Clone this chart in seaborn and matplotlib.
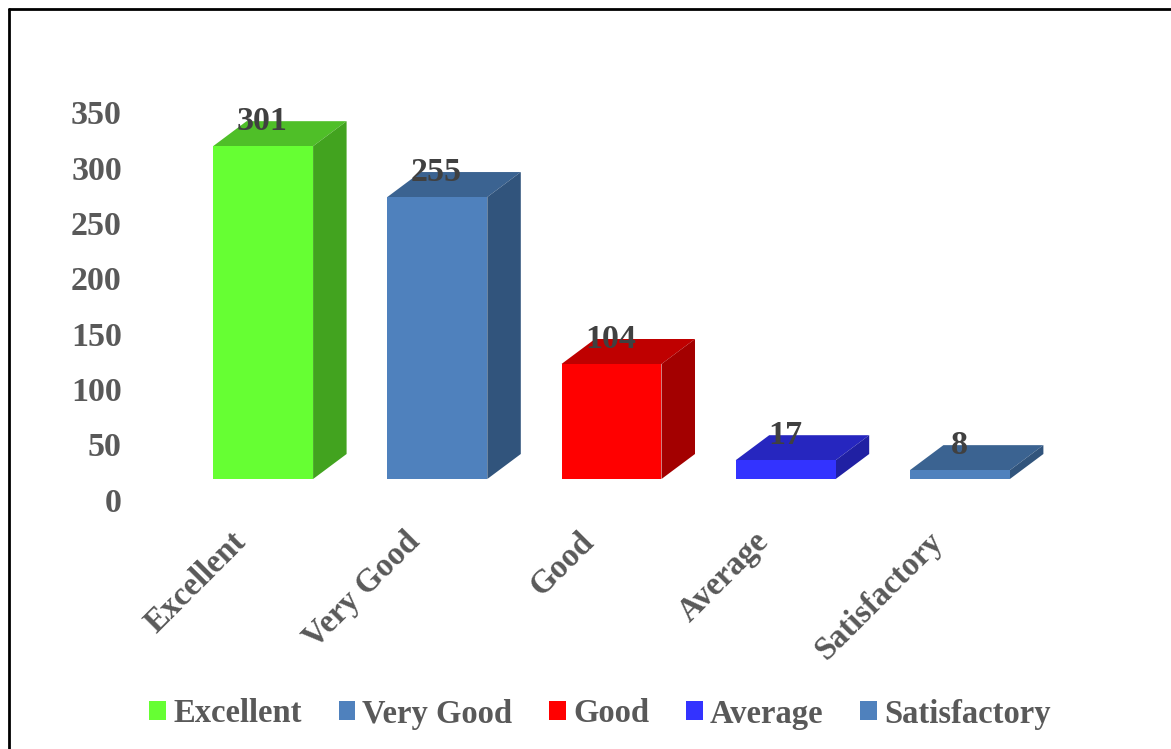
import matplotlib
matplotlib.use("Agg")
import matplotlib.pyplot as plt
import matplotlib.transforms as mtrans
from matplotlib.lines import Line2D
import pandas as pd
import seaborn as sns

categories = ["Excellent", "Very Good", "Good", "Average", "Satisfactory"]
counts = [301, 255, 104, 17, 8]
front_colors = ["#66FF33", "#4F81BD", "#FF0000", "#3333FF", "#4F81BD"]
top_colors = ["#4FBF28", "#3B6391", "#BF0000", "#2626BF", "#3B6391"]
side_colors = ["#42A31F", "#31547C", "#A30000", "#2020A3", "#31547C"]
y_ticks = [0, 50, 100, 150, 200, 250, 300, 350]

W, H = 1171, 749
DEPTH_X, DEPTH_Y = 33.5, 25  # pixels of fake 3d depth
TEXT = "#595959"
FONT = "Liberation Serif"

sns.set_style("white")
plt.rcParams["font.family"] = [FONT, "DejaVu Serif"]
plt.rcParams["font.weight"] = "bold"

df = pd.DataFrame({"category": categories, "count": counts})

fig = plt.figure(figsize=(W / 100, H / 100), dpi=100)
ax = fig.add_axes([176 / W, (H - 479) / H, 871 / W, 387 / H])
sns.barplot(data=df, x="category", y="count", hue="category", hue_order=categories,
            palette=front_colors, order=categories, width=0.574, dodge=False,
            saturation=1, legend=True, ax=ax, zorder=3, linewidth=0)
ax.set_xlim(-0.5, 4.5)
ax.set_ylim(0, 350)
ax.set_xlabel("")
ax.set_ylabel("")
ax.set_yticks(y_ticks)
sns.despine(ax=ax, left=True, bottom=True)
ax.tick_params(length=0)
ax.tick_params(axis="y", pad=39, labelsize=24.5, labelcolor=TEXT)
ax.tick_params(axis="x", pad=34, labelsize=23.5, labelcolor=TEXT)

# axis labels sit lower than the bar base in the original
for lab in ax.get_yticklabels():
    lab.set_transform(lab.get_transform() + mtrans.ScaledTranslation(0, -0.205, fig.dpi_scale_trans))
for lab in ax.get_xticklabels():
    lab.set_rotation(45)
    lab.set_rotation_mode("anchor")
    lab.set_ha("right")
    lab.set_va("top")
    lab.set_transform(lab.get_transform() + mtrans.ScaledTranslation(-0.33, 0, fig.dpi_scale_trans))

# depth faces are worked out from the bars themselves
dx = DEPTH_X * 5 / 871
dy = DEPTH_Y * 350 / 387
for bar, val, top_c, side_c in zip(ax.containers, counts, top_colors, side_colors):
    p = bar[0]
    x0, x1 = p.get_x(), p.get_x() + p.get_width()
    ax.fill([x0, x1, x1 + dx, x0 + dx], [val, val, val + dy, val + dy], color=top_c, lw=0, zorder=2, clip_on=False)
    ax.fill([x1, x1 + dx, x1 + dx, x1], [0, dy, val + dy, val], color=side_c, lw=0, zorder=2, clip_on=False)
    ax.text((x0 + x1) / 2 - 0.005, val + 25 * 350 / 387, str(val), ha="center", va="center",
            fontsize=24.5, color="#404040", zorder=4)

handles, labels = ax.get_legend_handles_labels()
ax.get_legend().remove()
leg = fig.legend(handles, labels, ncol=5, frameon=False, loc="center", bbox_to_anchor=(600 / W, (H - 714) / H),
                 fontsize=23.5, labelcolor=TEXT, handlelength=0.52, handleheight=0.52,
                 handletextpad=0.21, columnspacing=1.13)

# black border, left and top only
fig.add_artist(Line2D([9 / W, 9 / W], [0, 1 - 9 / H], color="black", lw=2))
fig.add_artist(Line2D([9 / W, 1], [1 - 9 / H, 1 - 9 / H], color="black", lw=2))

plt.savefig("out.png", dpi=100)
